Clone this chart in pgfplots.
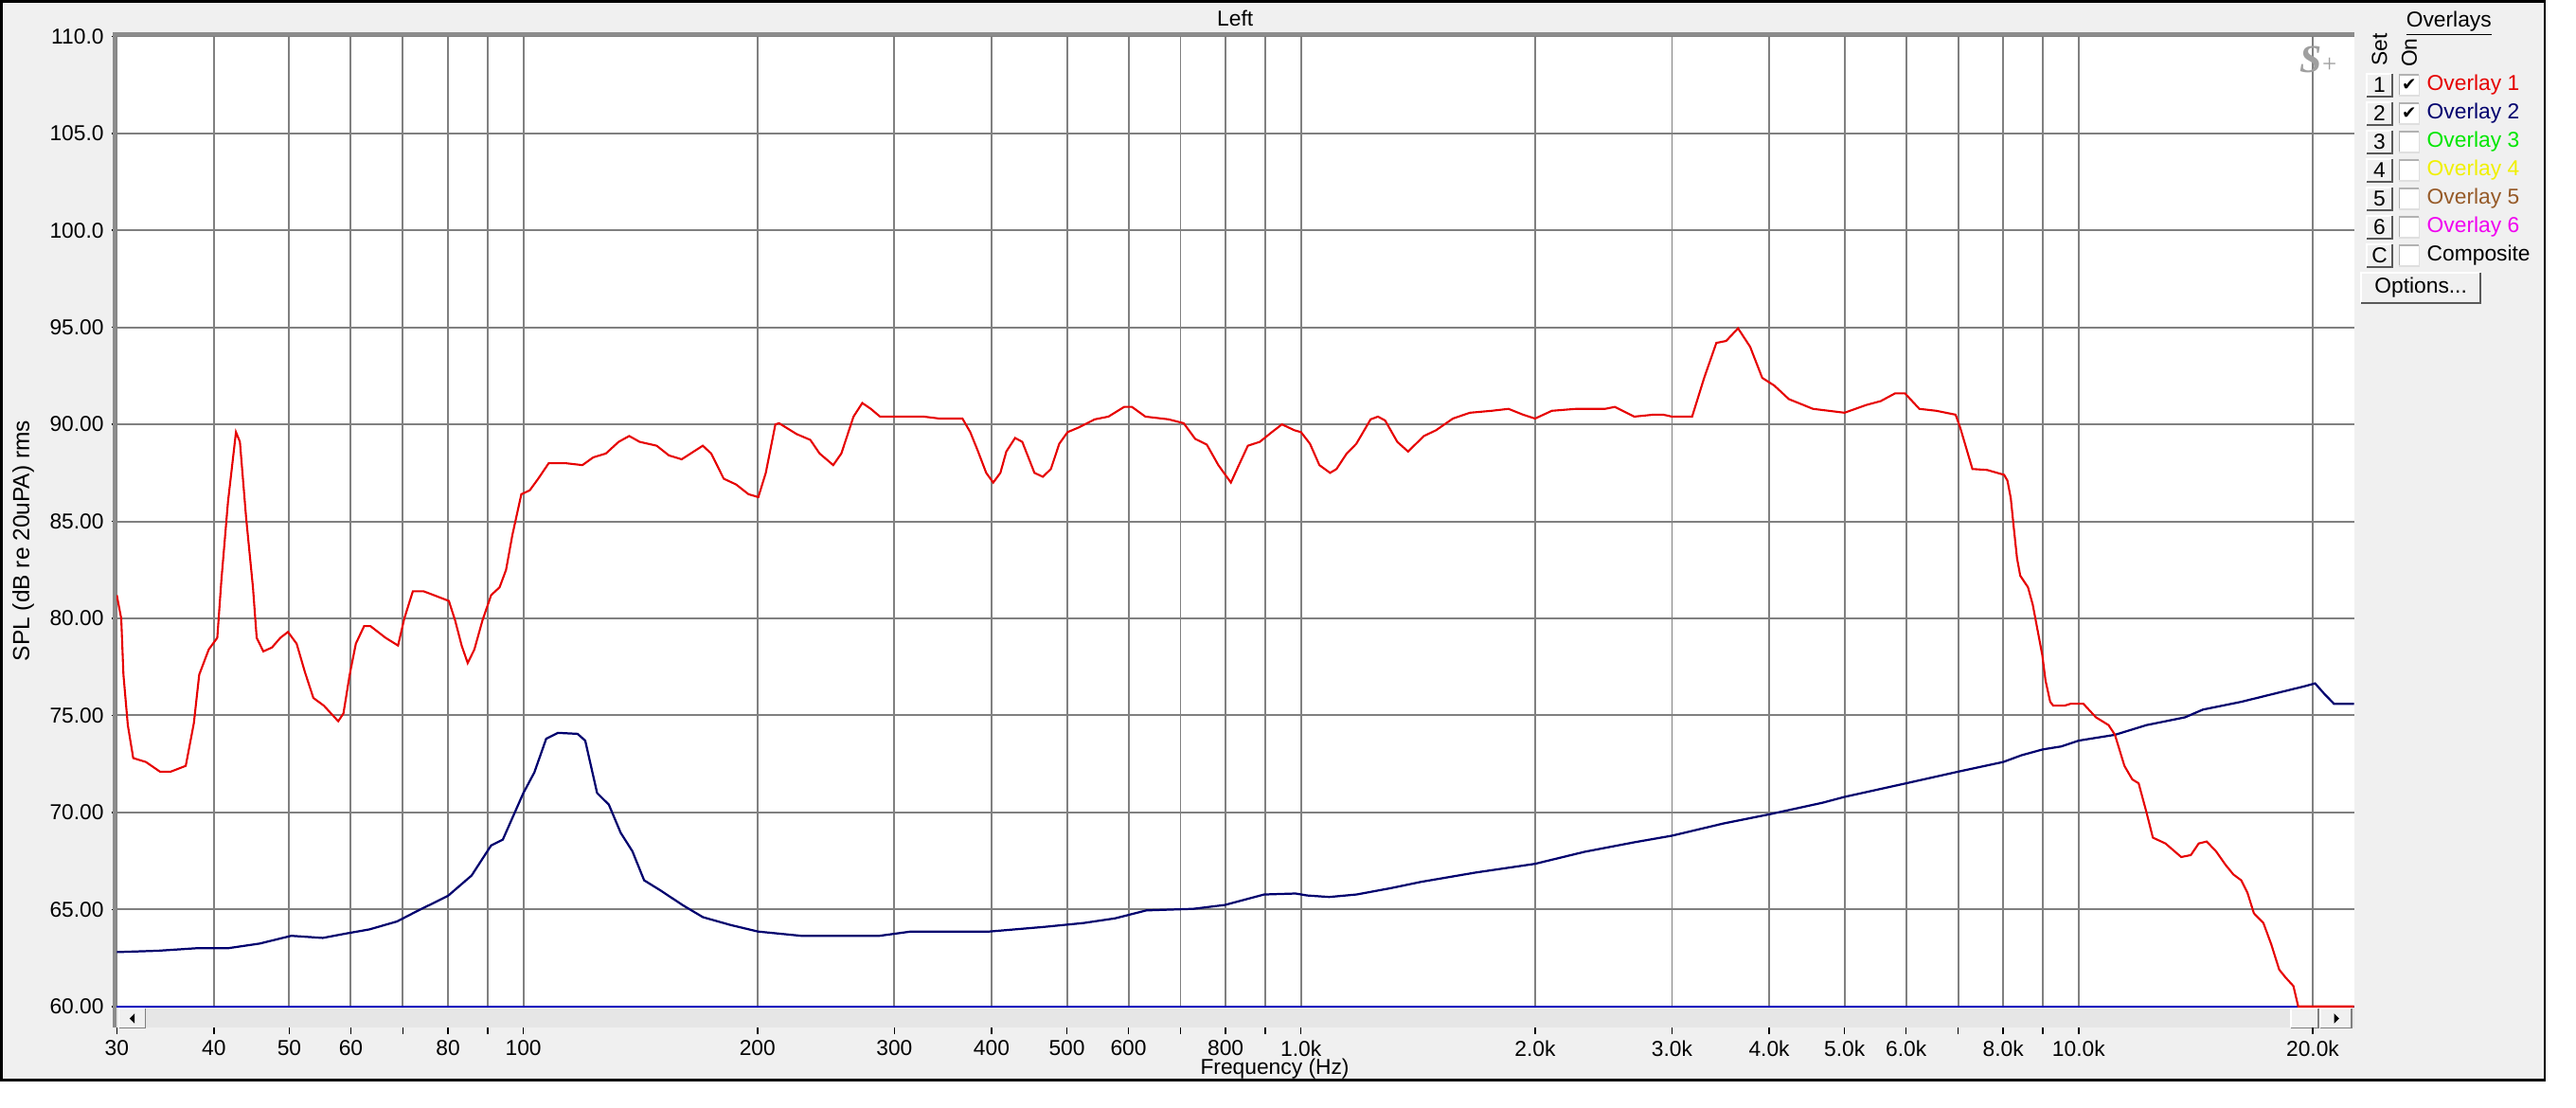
\documentclass[border=0pt]{standalone}
\usepackage{fontspec}
\setmainfont{Liberation Sans}
\newfontfamily\logofont{Liberation Serif}
\newfontfamily\symfont{DejaVu Sans}
\usepackage{pgfplots}
\usepackage{pgfplotstable}
\pgfplotsset{compat=1.18}

\definecolor{panel}{RGB}{240,240,240}
\definecolor{gridgray}{RGB}{128,128,128}
\definecolor{bordergray}{RGB}{140,140,140}
\definecolor{scrollgray}{RGB}{230,230,230}
\definecolor{ovred}{RGB}{230,0,0}
\definecolor{ovnavy}{RGB}{0,0,110}
\definecolor{floorblue}{RGB}{0,0,190}
\definecolor{ovgreen}{RGB}{0,230,0}
\definecolor{ovyellow}{RGB}{240,240,0}
\definecolor{ovbrown}{RGB}{150,90,40}
\definecolor{ovmagenta}{RGB}{240,0,240}

\newcommand{\uifont}{\fontsize{9.3}{11}\selectfont}

% Overlay 1 (red)
\pgfplotstableread{
f db
30 81.2
30.4 80.0
30.6 77.1
31.0 74.5
31.5 72.8
32.7 72.6
34.1 72.1
35.2 72.1
36.8 72.4
37.7 74.6
38.3 77.1
39.4 78.4
40.4 79.0
40.9 82.0
41.7 86.0
42.7 89.6
43.2 89.1
44.0 85.2
44.9 81.6
45.4 79.0
46.3 78.3
47.5 78.5
48.7 79.0
49.8 79.3
51.1 78.7
52.4 77.2
53.7 75.9
55.4 75.5
57.8 74.7
58.7 75.1
59.8 77.1
60.9 78.7
62.4 79.6
63.6 79.6
66.5 79.0
69.0 78.6
70.3 80.0
72.1 81.4
74.4 81.4
76.7 81.2
80.2 80.9
81.7 79.9
83.3 78.6
84.8 77.7
86.5 78.4
88.6 79.9
90.9 81.2
93.2 81.6
95.0 82.5
96.8 84.3
99.4 86.4
101.9 86.6
104.5 87.2
107.8 88.0
113.3 88.0
119.1 87.9
123.0 88.3
127.7 88.5
132.6 89.1
136.8 89.4
141.1 89.1
148.4 88.9
153.9 88.4
159.8 88.2
170.1 88.9
174.4 88.5
181.0 87.2
187.8 86.9
194.8 86.4
200.5 86.25
205 87.5
210.9 90.0
213.2 90.06
224.6 89.5
233.9 89.2
240.4 88.5
250.3 87.9
256.4 88.5
265.8 90.4
272.8 91.1
279.8 90.8
287.5 90.4
302.7 90.4
327.2 90.4
342.7 90.3
367 90.3
375.6 89.6
384.4 88.6
393.8 87.5
402 87.0
410.6 87.5
417.9 88.6
428.9 89.3
438.1 89.1
454.2 87.5
465.6 87.3
476.8 87.7
488.8 89.0
501 89.6
518.4 89.85
543 90.26
565.4 90.4
592.4 90.9
606.2 90.9
630.8 90.4
675.6 90.26
706.6 90.06
731.2 89.25
756.6 88.96
783.1 87.9
812.5 87.0
829.8 87.8
854.5 88.9
885.3 89.1
917.3 89.6
945.2 90.0
980.3 89.7
1000 89.6
1027 89.0
1056 87.9
1090 87.5
1111 87.7
1145 88.5
1178 89.0
1229 90.26
1256 90.4
1283 90.2
1330 89.1
1373 88.6
1439 89.4
1492 89.7
1568 90.3
1649 90.6
1759 90.7
1849 90.8
1930 90.5
2000 90.3
2102 90.7
2258 90.8
2461 90.8
2533 90.9
2682 90.4
2840 90.5
2922 90.5
3000 90.4
3184 90.4
3300 92.4
3421 94.2
3522 94.3
3648 94.95
3781 94.0
3919 92.4
4061 92.0
4241 91.3
4554 90.8
5000 90.6
5333 91.0
5566 91.2
5808 91.6
5979 91.6
6241 90.8
6562 90.7
6947 90.5
7047 89.8
7302 87.7
7626 87.65
8020 87.4
8100 87.1
8180 86.2
8257 84.6
8333 83.1
8413 82.2
8609 81.6
8731 80.7
8855 79.4
8981 78.1
9066 76.8
9193 75.7
9279 75.5
9587 75.5
9768 75.6
10141 75.6
10527 74.9
10928 74.5
11135 74.0
11452 72.4
11723 71.7
11945 71.5
12226 70.0
12459 68.7
12932 68.4
13549 67.7
13940 67.8
14272 68.4
14611 68.5
15019 68.0
15450 67.3
15813 66.8
16186 66.5
16490 65.85
16804 64.8
17284 64.3
17690 63.2
18111 61.9
18450 61.5
18890 61.05
19160 60.0
22600 60.0
}\overlayone

% Overlay 2 (navy)
\pgfplotstableread{
f db
30 62.8
33.9 62.87
38.0 63.0
41.7 63.0
45.8 63.24
50.3 63.64
55.2 63.53
59.2 63.76
63.4 63.97
68.8 64.38
72.9 64.9
80.0 65.7
85.8 66.75
90.9 68.3
94.1 68.6
100 71.0
103.3 72.06
107.0 73.8
110.8 74.1
117.4 74.05
120.1 73.7
124.4 71.0
128.8 70.4
133.4 68.95
138.1 68.0
143.0 66.5
149.8 66.0
160.6 65.2
170.2 64.6
184.6 64.2
200.3 63.86
227.6 63.64
287.1 63.64
315.1 63.86
397.6 63.86
467.7 64.1
525.4 64.3
576.7 64.54
632.7 64.95
727.3 65.03
798.2 65.23
896.7 65.77
984 65.82
1018 65.72
1087 65.64
1179 65.77
1306 66.1
1427 66.42
1677 66.9
2000 67.35
2316 67.97
2683 68.46
3000 68.8
3494 69.43
4000 69.9
4687 70.5
5000 70.8
6000 71.5
7000 72.1
8000 72.6
8450 72.95
9000 73.25
9500 73.4
10000 73.7
11135 74.0
12226 74.5
13700 74.9
14450 75.3
16186 75.7
17770 76.1
19515 76.5
20140 76.65
20711 76.1
21300 75.6
22600 75.6
}\overlaytwo

\begin{document}
\begin{tikzpicture}
% window background and scroll bar (1 unit = one pixel of a 1560 px wide picture)
\begin{scope}[x=0.25mm,y=-0.25mm]
  \fill[white] (0,0) rectangle (1560,671);
  \fill[panel] (1,1) rectangle (1541,654);
  \fill[scrollgray] (70.7,610) rectangle (1425.5,622.5);
  % left arrow button
  \fill[panel] (72,611) rectangle (88,622.5);
  \draw[white, line width=0.25mm] (72,622.5) -- (72,611) -- (88,611);
  \draw[gray, line width=0.25mm] (72,622.5) -- (88,622.5) -- (88,611);
  \fill[black] (78.5,616.8) -- (81.5,613.8) -- (81.5,619.8) -- cycle;
  % right buttons
  \fill[panel] (1387.5,611) rectangle (1404,622.5);
  \draw[white, line width=0.25mm] (1387.5,622.5) -- (1387.5,611) -- (1404,611);
  \draw[gray, line width=0.25mm] (1387.5,622.5) -- (1404,622.5) -- (1404,611);
  \fill[panel] (1405,611) rectangle (1424,622.5);
  \draw[white, line width=0.25mm] (1405,622.5) -- (1405,611) -- (1424,611);
  \draw[gray, line width=0.25mm] (1405,622.5) -- (1424,622.5) -- (1424,611);
  \fill[black] (1416.5,616.8) -- (1413.5,613.8) -- (1413.5,619.8) -- cycle;
\end{scope}

\begin{axis}[
  at={(17.675mm,-152.375mm)}, anchor=south west,
  scale only axis, width=338.7mm, height=146.875mm,
  xmode=log, xmin=30, xmax=22600, ymin=60, ymax=110,
  xtick={30,40,50,60,70,80,90,100,200,300,400,500,600,700,800,900,1000,2000,3000,4000,5000,6000,7000,8000,9000,10000,20000},
  xmajorticks=false, xminorticks=false,
  ytick={60,65,...,110},
  yticklabels={60.00,65.00,70.00,75.00,80.00,85.00,90.00,95.00,100.0,105.0,110.0},
  ytick pos=left, tick align=outside, major tick length=0.8mm,
  y tick style={black, line width=0.22mm},
  yticklabel style={font=\uifont, inner sep=0pt, xshift=-1.1mm},
  xmajorgrids=true, ymajorgrids=true,
  major grid style={gridgray, line width=0.28mm},
  axis line style={draw=none},
  axis background/.style={fill=white},
  clip=false,
]
\addplot[floorblue, line width=0.35mm] coordinates {(30,60) (22600,60)};
\addplot[ovnavy, line width=0.32mm] table[x=f, y=db] {\overlaytwo};
\addplot[ovred, line width=0.3mm] table[x=f, y=db] {\overlayone};
\end{axis}

% frequency tick marks and labels below the scroll bar
\begin{axis}[
  at={(17.675mm,-155.6mm)}, anchor=south west,
  scale only axis, width=338.7mm, height=1mm,
  xmode=log, xmin=30, xmax=22600, ymin=0, ymax=1,
  xtick={30,40,50,60,70,80,90,100,200,300,400,500,600,700,800,900,1000,2000,3000,4000,5000,6000,7000,8000,9000,10000,20000},
  xticklabels={30,40,50,60,,80,,100,200,300,400,500,600,,800,,1.0k,2.0k,3.0k,4.0k,5.0k,6.0k,,8.0k,,10.0k,20.0k},
  xminorticks=false, xtick pos=bottom, tick align=outside, major tick length=0.9mm,
  x tick style={black, line width=0.22mm},
  xticklabel style={font=\uifont, inner sep=0pt, yshift=-1mm},
  ytick=\empty,
  axis line style={draw=none},
]
\end{axis}

\begin{scope}[x=0.25mm,y=-0.25mm]
  % plot border (left and top)
  \draw[bordergray, line width=0.55mm] (69.6,19.5) -- (69.6,622.5);
  \draw[bordergray, line width=0.6mm] (68.5,20.8) -- (1425.5,20.8);
  % logo
  \node[text=gray!75, inner sep=0pt] at (1404,36)
    {\logofont\fontsize{17}{17}\selectfont\bfseries\itshape S\fontsize{11}{11}\selectfont\mdseries\upshape +};
  % titles
  \node[font=\uifont] at (748,11) {Left};
  \node[font=\fontsize{10}{12}\selectfont, rotate=90] at (14,327.5) {SPL (dB re 20uPA) rms};
  \node[font=\uifont] at (772,647) {Frequency (Hz)};
  % overlays panel
  \node[font=\uifont] at (1483,14.5) {\underline{Overlays}};
  \node[font=\uifont, rotate=90] at (1441,30) {Set};
  \node[font=\uifont, rotate=90] at (1459,32) {On};
  \foreach \n/\lab/\col/\chk [count=\i] in {1/Overlay 1/ovred/1, 2/Overlay 2/ovnavy/1, 3/Overlay 3/ovgreen/0, 4/Overlay 4/ovyellow/0, 5/Overlay 5/ovbrown/0, 6/Overlay 6/ovmagenta/0, C/Composite/black/0}{
    \pgfmathsetmacro{\yy}{51.6+17.2*(\i-1)}
    \fill[panel] (1433.4,\yy-6.8) rectangle (1448.7,\yy+6.8);
    \draw[white, line width=0.25mm] (1433.4,\yy+6.8) -- (1433.4,\yy-6.8) -- (1448.7,\yy-6.8);
    \draw[gray!70!black, line width=0.3mm] (1433.4,\yy+6.8) -- (1448.7,\yy+6.8) -- (1448.7,\yy-6.8);
    \node[font=\uifont] at (1441,\yy) {\n};
    \fill[white] (1453,\yy-6.2) rectangle (1465,\yy+6.2);
    \draw[gray!60, line width=0.25mm] (1453,\yy+6.2) -- (1453,\yy-6.2) -- (1465,\yy-6.2);
    \draw[gray!25, line width=0.25mm] (1453,\yy+6.2) -- (1465,\yy+6.2) -- (1465,\yy-6.2);
    \ifnum\chk=1
      \node[font=\symfont\fontsize{7.5}{8}\selectfont, inner sep=0pt] at (1459,\yy) {✔};
    \fi
    \node[font=\uifont, text=\col, anchor=west, inner sep=0pt] at (1469.5,\yy) {\lab};
  }
  \fill[panel] (1430,165) rectangle (1502,183.5);
  \draw[white, line width=0.25mm] (1430,183.5) -- (1430,165) -- (1502,165);
  \draw[gray!70!black, line width=0.3mm] (1430,183.5) -- (1502,183.5) -- (1502,165);
  \node[font=\uifont] at (1466,174.2) {Options...};
  % window frame
  \draw[black, line width=0.38mm] (1,1) rectangle (1541,654);
  \pgfresetboundingbox
  \useasboundingbox (0,0) rectangle (1560,671);
\end{scope}
\end{tikzpicture}
\end{document}
